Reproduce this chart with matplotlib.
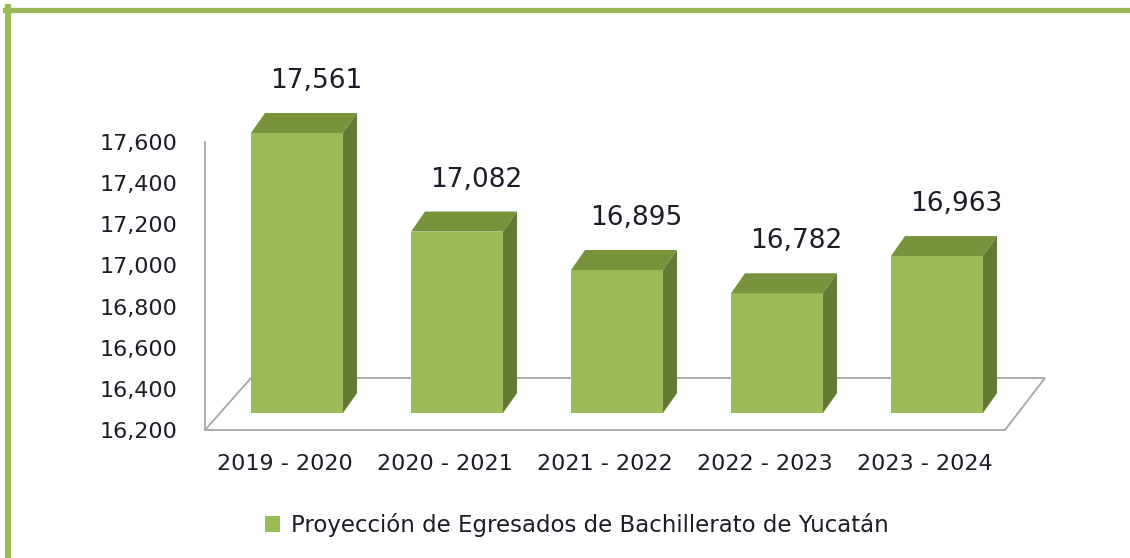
import numpy as np
import matplotlib
matplotlib.use("Agg")
import matplotlib.pyplot as plt
from matplotlib.patches import Polygon, Patch
from matplotlib.lines import Line2D

# datos
categorias = ["2019 - 2020", "2020 - 2021", "2021 - 2022", "2022 - 2023", "2023 - 2024"]
egresados = [17561, 17082, 16895, 16782, 16963]
ticks_y = [16200, 16400, 16600, 16800, 17000, 17200, 17400, 17600]
serie = "Proyección de Egresados de Bachillerato de Yucatán"

verde = "#9BBB59"
verde_top = "#77933C"
verde_lado = "#627A33"
gris = "#A6A6A6"
texto = "#1c1c28"

W, H = 1130, 558
fig = plt.figure(figsize=(W / 100, H / 100), dpi=100)
ax = fig.add_axes([205 / W, (H - 430) / H, 800 / W, 288 / H])
ax.set_xlim(-0.5, 4.5)
ax.set_ylim(ticks_y[0], ticks_y[-1])

# pixeles -> unidades de datos
px_x = (ax.get_xlim()[1] - ax.get_xlim()[0]) / 800
px_y = (ax.get_ylim()[1] - ax.get_ylim()[0]) / 288

base = ticks_y[0]
ancho = 0.575
# desplazamiento de la cara frontal (mitad del piso) y profundidad de la barra
off_x, off_y = 12 * px_x, 17 * px_y
dep_x, dep_y = 14 * px_x, 20 * px_y

# piso 3D
x0, x1 = ax.get_xlim()
piso = Polygon([(x0, base), (x1, base), (x1 + 40 * px_x, base + 52 * px_y),
                (x0 + 46 * px_x, base + 52 * px_y)],
               closed=True, facecolor="white", edgecolor=gris, lw=1.3,
               clip_on=False, zorder=1)
ax.add_patch(piso)

for i, v in enumerate(egresados):
    l = i - ancho / 2 + off_x
    r = i + ancho / 2 + off_x
    b = base + off_y
    t = v + off_y
    ax.add_patch(Polygon([(l, b), (r, b), (r, t), (l, t)], closed=True,
                         facecolor=verde, edgecolor="none", clip_on=False, zorder=3))
    ax.add_patch(Polygon([(l, t), (r, t), (r + dep_x, t + dep_y), (l + dep_x, t + dep_y)],
                         closed=True, facecolor=verde_top, edgecolor="none",
                         clip_on=False, zorder=3))
    ax.add_patch(Polygon([(r, b), (r + dep_x, b + dep_y), (r + dep_x, t + dep_y), (r, t)],
                         closed=True, facecolor=verde_lado, edgecolor="none",
                         clip_on=False, zorder=3))
    ax.annotate(f"{v:,}", (i + off_x + 19 * px_x, t + dep_y), xytext=(0, 32),
                textcoords="offset pixels", ha="center", va="center",
                fontsize=19, color=texto, annotation_clip=False)

for s in ["top", "right", "bottom"]:
    ax.spines[s].set_visible(False)
ax.spines["left"].set_color(gris)
ax.spines["left"].set_linewidth(1.3)
ax.set_facecolor("none")
ax.set_xticks(range(len(categorias)))
ax.set_xticklabels(categorias, fontsize=16, color=texto)
ax.set_yticks(ticks_y)
ax.set_yticklabels([f"{t:,}" for t in ticks_y], fontsize=16, color=texto)
ax.tick_params(axis="x", length=0, pad=17)
ax.tick_params(axis="y", length=0, pad=19.5)

fig.legend(handles=[Patch(facecolor=verde, edgecolor="none", label=serie)],
           loc="center", bbox_to_anchor=(577 / W, 1 - 525 / H), frameon=False,
           fontsize=16.5, handlelength=0.65, handleheight=0.65, handletextpad=0.48,
           labelcolor=texto)

# marco verde
fig.add_artist(Line2D([5 / W, 1], [1 - 9.5 / H, 1 - 9.5 / H], color=verde, lw=3.8,
                      transform=fig.transFigure))
fig.add_artist(Line2D([8 / W, 8 / W], [0, 1 - 7 / H], color=verde, lw=4.4,
                      transform=fig.transFigure))

fig.savefig("out.png", dpi=100)
